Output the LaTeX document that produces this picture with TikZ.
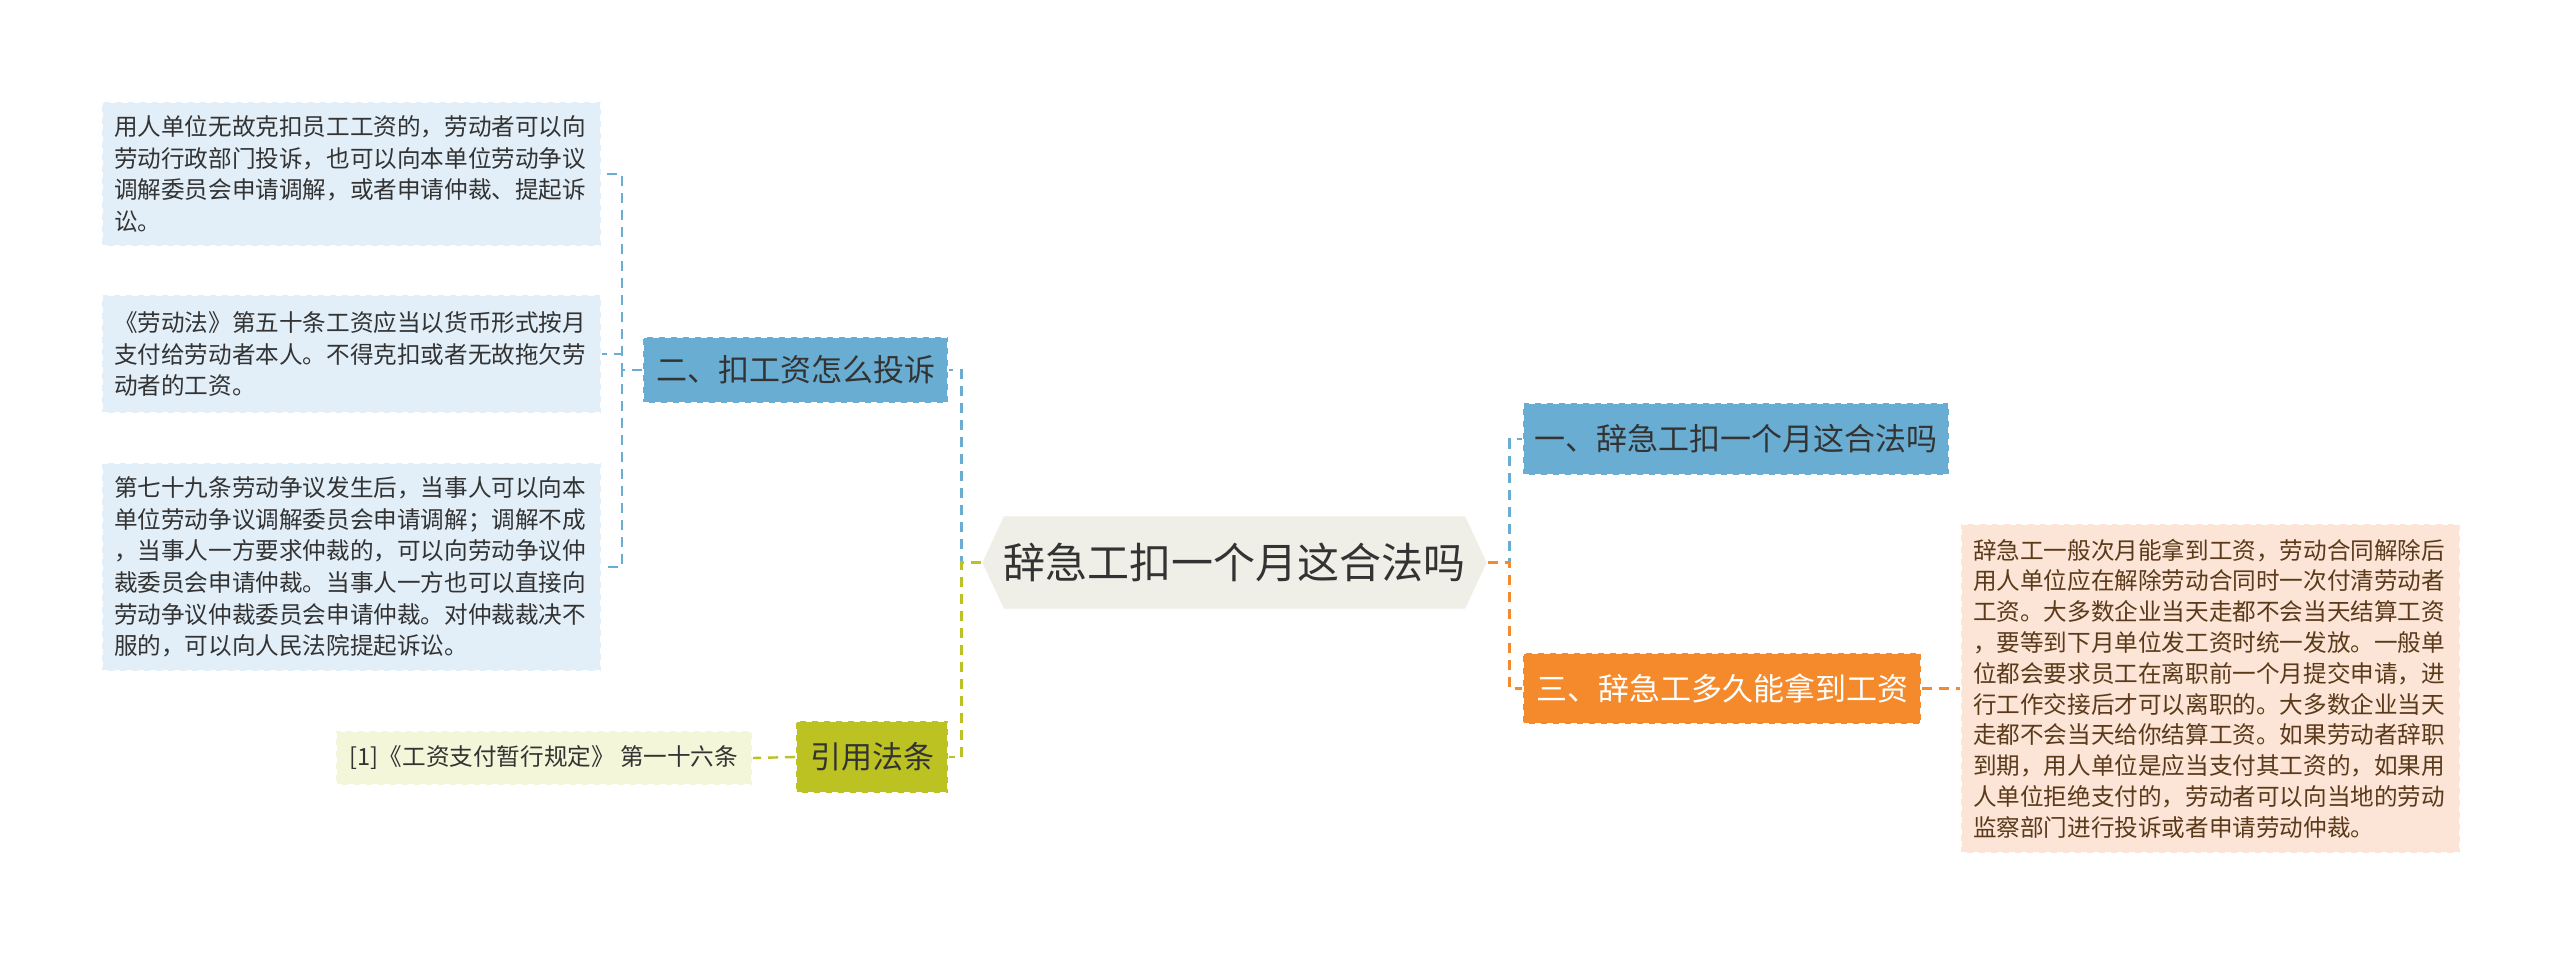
\documentclass[tikz,border=0pt]{standalone}
\usepackage{fontspec}
\setmainfont{Noto Sans CJK SC}
\usetikzlibrary{shapes.symbols}
\definecolor{lb}{HTML}{E2EFF8}
\definecolor{bb}{HTML}{6AADD3}
\definecolor{ol}{HTML}{BCC222}
\definecolor{olb}{HTML}{F3F6D8}
\definecolor{org}{HTML}{F58A2C}
\definecolor{pk}{HTML}{FCE5D6}
\definecolor{ctr}{HTML}{EFEFE7}
\definecolor{txt}{HTML}{333333}
\definecolor{brn}{HTML}{5A3A1A}
\begin{document}
\begin{tikzpicture}[x=0.5pt,y=-0.5pt,
  leaf/.style={fill=lb,draw=white,dashed,line width=1pt,anchor=north west,inner xsep=6pt,inner ysep=0pt,text=txt,font=\fontsize{11.8}{15.8}\selectfont,align=left,text width=237.5pt},
  br/.style={draw=white,dashed,line width=1pt,inner sep=0pt,text=txt,font=\fontsize{15.5}{18}\selectfont,anchor=north west},
  cb/.style={dash pattern=on 5pt off 3.5pt,line width=1.2pt}]
\useasboundingbox (0,0) rectangle (2560,953);
\fill[white] (0,0) rectangle (2560,953);
% leaves
\node[leaf,minimum height=72pt] (l1) at (101,101) {用人单位无故克扣员工工资的，劳动者可以向\\劳动行政部门投诉，也可以向本单位劳动争议\\调解委员会申请调解，或者申请仲裁、提起诉\\讼。};
\node[leaf,minimum height=59pt] (l2) at (101,294) {《劳动法》第五十条工资应当以货币形式按月\\支付给劳动者本人。不得克扣或者无故拖欠劳\\动者的工资。};
\node[leaf,minimum height=104pt] (l3) at (101,462) {第七十九条劳动争议发生后，当事人可以向本\\单位劳动争议调解委员会申请调解；调解不成\\，当事人一方要求仲裁的，可以向劳动争议仲\\裁委员会申请仲裁。当事人一方也可以直接向\\劳动争议仲裁委员会申请仲裁。对仲裁裁决不\\服的，可以向人民法院提起诉讼。};
% branches
\node[br,fill=bb,minimum width=152.5pt,minimum height=33pt] (b2) at (642,336) {};
\node[text=txt,font=\fontsize{15.5}{18}\selectfont] at (b2.center) {二、扣工资怎么投诉};
\node[br,fill=ol,minimum width=76pt,minimum height=36pt] (b4) at (795,720) {};
\node[text=txt,font=\fontsize{15.5}{18}\selectfont] at (b4.center) {引用法条};
\node[br,fill=olb,minimum width=208pt,minimum height=27pt] (r1) at (335,730) {};
\node[text=txt,font=\fontsize{11.8}{15}\selectfont] at (r1.center) {[1]《工资支付暂行规定》 第一十六条};
\node[br,fill=bb,minimum width=213pt,minimum height=36pt] (b1) at (1522,402) {};
\node[text=txt,font=\fontsize{15.5}{18}\selectfont] at (b1.center) {一、辞急工扣一个月这合法吗};
\node[br,fill=org,minimum width=199pt,minimum height=35.5pt] (b3) at (1522,652) {};
\node[text=white,font=\fontsize{15.5}{18}\selectfont] at (b3.center) {三、辞急工多久能拿到工资};
\node[leaf,fill=pk,minimum height=164.5pt,text=brn,font=\fontsize{11.8}{15.4}\selectfont] (d) at (1960,523) {辞急工一般次月能拿到工资，劳动合同解除后\\用人单位应在解除劳动合同时一次付清劳动者\\工资。大多数企业当天走都不会当天结算工资\\，要等到下月单位发工资时统一发放。一般单\\位都会要求员工在离职前一个月提交申请，进\\行工作交接后才可以离职的。大多数企业当天\\走都不会当天给你结算工资。如果劳动者辞职\\到期，用人单位是应当支付其工资的，如果用\\人单位拒绝支付的，劳动者可以向当地的劳动\\监察部门进行投诉或者申请劳动仲裁。};
% center
\node[signal,signal to=east and west,signal pointer angle=130,fill=ctr,draw=white,minimum width=243.5pt,minimum height=46.5pt,inner sep=0pt,text=txt,font=\fontsize{21}{24}\selectfont] (c) at (1234.5,562.5) {辞急工扣一个月这合法吗};
% connectors
\draw[cb,bb] (c.west) -- ++(-20,0) |- (b2.east);
\draw[cb,ol] (c.west) -- ++(-20,0) |- (b4.east);
\draw[cb,ol] (c.west) -- ++(-20,0);
\draw[cb,bb] (c.east) -- ++(22,0) |- (b1.west);
\draw[cb,org] (c.east) -- ++(22,0) |- (b3.west);
\draw[cb,org] (c.east) -- ++(22,0);
\draw[cb,bb] (b2.west) -- ++(-20,0) |- (l1.east);
\draw[cb,bb] (b2.west) -- ++(-20,0) |- (l2.east);
\draw[cb,bb] (b2.west) -- ++(-20,0) |- (l3.east);
\draw[cb,ol] (b4.west) -- (r1.east);
\draw[cb,org] (b3.east) -- (d.west);
\end{tikzpicture}
\end{document}
